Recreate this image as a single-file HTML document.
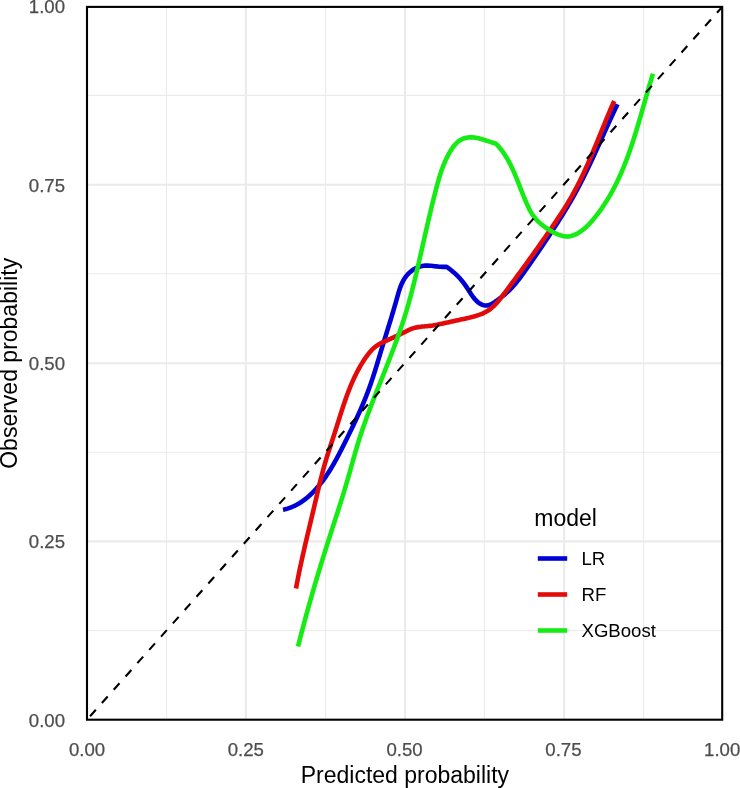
<!DOCTYPE html>
<html><head><meta charset="utf-8"><style>
html,body{margin:0;padding:0;background:#fff;width:740px;height:788px;overflow:hidden}
svg{position:absolute;left:0;top:0;will-change:transform}
text{font-family:"Liberation Sans",sans-serif}
</style></head><body>
<svg width="740" height="788" viewBox="0 0 740 788">
<rect width="740" height="788" fill="#fff"/>
<line x1="166.50" y1="6.90" x2="166.50" y2="719.70" stroke="#EBEBEB" stroke-width="1.1"/>
<line x1="87.00" y1="630.50" x2="722.20" y2="630.50" stroke="#EBEBEB" stroke-width="1.1"/>
<line x1="325.50" y1="6.90" x2="325.50" y2="719.70" stroke="#EBEBEB" stroke-width="1.1"/>
<line x1="87.00" y1="452.30" x2="722.20" y2="452.30" stroke="#EBEBEB" stroke-width="1.1"/>
<line x1="484.50" y1="6.90" x2="484.50" y2="719.70" stroke="#EBEBEB" stroke-width="1.1"/>
<line x1="87.00" y1="273.80" x2="722.20" y2="273.80" stroke="#EBEBEB" stroke-width="1.1"/>
<line x1="643.50" y1="6.90" x2="643.50" y2="719.70" stroke="#EBEBEB" stroke-width="1.1"/>
<line x1="87.00" y1="95.40" x2="722.20" y2="95.40" stroke="#EBEBEB" stroke-width="1.1"/>
<line x1="245.90" y1="6.90" x2="245.90" y2="719.70" stroke="#EBEBEB" stroke-width="2.1"/>
<line x1="87.00" y1="541.40" x2="722.20" y2="541.40" stroke="#EBEBEB" stroke-width="2.1"/>
<line x1="405.10" y1="6.90" x2="405.10" y2="719.70" stroke="#EBEBEB" stroke-width="2.1"/>
<line x1="87.00" y1="363.20" x2="722.20" y2="363.20" stroke="#EBEBEB" stroke-width="2.1"/>
<line x1="564.10" y1="6.90" x2="564.10" y2="719.70" stroke="#EBEBEB" stroke-width="2.1"/>
<line x1="87.00" y1="184.80" x2="722.20" y2="184.80" stroke="#EBEBEB" stroke-width="2.1"/>
<path d="M283.00,509.70 L284.50,509.38 L285.98,509.01 L287.44,508.59 L288.88,508.13 L290.29,507.63 L291.69,507.09 L293.07,506.50 L294.44,505.88 L295.78,505.21 L297.10,504.51 L298.40,503.78 L299.69,503.01 L300.95,502.20 L302.20,501.36 L303.43,500.50 L304.64,499.60 L305.84,498.67 L307.01,497.72 L308.17,496.74 L309.31,495.74 L310.43,494.71 L311.53,493.66 L312.62,492.59 L313.69,491.50 L314.74,490.39 L315.78,489.27 L316.80,488.13 L317.80,486.97 L318.79,485.80 L319.76,484.61 L320.71,483.42 L321.65,482.22 L322.57,481.00 L323.47,479.78 L324.36,478.55 L325.24,477.31 L326.10,476.07 L326.95,474.82 L327.79,473.56 L328.61,472.29 L329.42,471.02 L330.22,469.74 L331.01,468.45 L331.79,467.16 L332.55,465.86 L333.31,464.56 L334.06,463.25 L334.80,461.94 L335.54,460.63 L336.26,459.30 L336.98,457.98 L337.69,456.65 L338.40,455.32 L339.10,453.98 L339.79,452.65 L340.48,451.30 L341.17,449.96 L341.85,448.62 L342.53,447.27 L343.21,445.92 L343.88,444.57 L344.56,443.22 L345.23,441.86 L345.90,440.51 L346.57,439.16 L347.24,437.80 L347.91,436.44 L348.58,435.09 L349.25,433.73 L349.91,432.37 L350.57,431.01 L351.24,429.65 L351.89,428.29 L352.55,426.92 L353.20,425.56 L353.85,424.19 L354.50,422.82 L355.15,421.45 L355.79,420.08 L356.43,418.71 L357.06,417.34 L357.69,415.96 L358.32,414.58 L358.94,413.20 L359.56,411.82 L360.18,410.44 L360.79,409.05 L361.39,407.66 L361.99,406.27 L362.59,404.88 L363.18,403.49 L363.76,402.09 L364.34,400.69 L364.91,399.29 L365.48,397.89 L366.04,396.48 L366.59,395.07 L367.14,393.66 L367.68,392.25 L368.21,390.83 L368.74,389.41 L369.26,387.98 L369.77,386.56 L370.28,385.13 L370.78,383.70 L371.27,382.27 L371.76,380.83 L372.24,379.39 L372.71,377.95 L373.19,376.51 L373.65,375.07 L374.11,373.63 L374.57,372.18 L375.03,370.73 L375.48,369.29 L375.93,367.84 L376.37,366.39 L376.82,364.94 L377.26,363.49 L377.70,362.04 L378.13,360.59 L378.57,359.14 L379.01,357.69 L379.44,356.25 L379.88,354.80 L380.31,353.35 L380.75,351.91 L381.18,350.46 L381.62,349.02 L382.06,347.58 L382.50,346.14 L382.94,344.70 L383.38,343.26 L383.82,341.82 L384.27,340.39 L384.71,338.95 L385.16,337.51 L385.60,336.08 L386.05,334.64 L386.49,333.21 L386.94,331.77 L387.38,330.34 L387.83,328.90 L388.27,327.46 L388.72,326.03 L389.16,324.59 L389.60,323.15 L390.05,321.71 L390.49,320.26 L390.93,318.82 L391.37,317.37 L391.81,315.92 L392.24,314.47 L392.68,313.02 L393.11,311.57 L393.55,310.11 L393.98,308.65 L394.40,307.19 L394.83,305.72 L395.26,304.25 L395.68,302.78 L396.10,301.30 L396.51,299.82 L396.93,298.34 L397.34,296.85 L397.76,295.36 L398.18,293.88 L398.62,292.40 L399.07,290.93 L399.54,289.48 L400.03,288.03 L400.56,286.61 L401.11,285.20 L401.70,283.81 L402.33,282.46 L403.00,281.13 L403.72,279.83 L404.50,278.56 L405.33,277.33 L406.22,276.14 L407.17,275.00 L408.17,273.90 L409.23,272.85 L410.34,271.86 L411.50,270.92 L412.70,270.05 L413.95,269.24 L415.24,268.50 L416.56,267.84 L417.93,267.25 L419.32,266.75 L420.75,266.33 L422.20,265.99 L423.68,265.75 L425.18,265.61 L426.71,265.56 L428.25,265.59 L429.80,265.68 L431.36,265.82 L432.92,265.99 L434.48,266.17 L436.03,266.36 L437.58,266.53 L439.11,266.67 L440.62,266.77 L442.12,266.84 L443.60,266.86 L445.06,266.85 L446.50,266.80 L447.80,267.70 L449.06,268.61 L450.29,269.53 L451.49,270.47 L452.65,271.42 L453.78,272.38 L454.88,273.36 L455.96,274.36 L457.01,275.38 L458.03,276.42 L459.03,277.48 L460.01,278.57 L460.98,279.68 L461.92,280.81 L462.85,281.98 L463.76,283.17 L464.66,284.39 L465.55,285.64 L466.43,286.92 L467.31,288.24 L468.17,289.58 L469.04,290.93 L469.92,292.29 L470.80,293.64 L471.70,294.97 L472.62,296.27 L473.57,297.53 L474.54,298.74 L475.54,299.89 L476.58,300.96 L477.67,301.95 L478.80,302.85 L479.99,303.64 L481.22,304.31 L482.52,304.86 L483.85,305.25 L485.21,305.49 L486.59,305.54 L487.97,305.39 L489.33,305.04 L490.69,304.49 L492.02,303.80 L493.35,302.99 L494.66,302.11 L495.95,301.19 L497.23,300.26 L498.49,299.33 L499.74,298.40 L500.97,297.46 L502.18,296.52 L503.37,295.56 L504.54,294.60 L505.69,293.62 L506.83,292.62 L507.94,291.60 L509.02,290.56 L510.09,289.50 L511.13,288.42 L512.16,287.33 L513.17,286.21 L514.16,285.08 L515.14,283.93 L516.10,282.77 L517.05,281.60 L517.98,280.42 L518.91,279.22 L519.82,278.02 L520.73,276.80 L521.63,275.58 L522.52,274.36 L523.41,273.13 L524.29,271.89 L525.17,270.66 L526.04,269.42 L526.92,268.18 L527.79,266.94 L528.66,265.70 L529.53,264.46 L530.40,263.22 L531.27,261.97 L532.13,260.73 L532.99,259.48 L533.86,258.24 L534.71,256.99 L535.57,255.74 L536.43,254.49 L537.28,253.24 L538.14,251.99 L538.99,250.74 L539.84,249.48 L540.68,248.23 L541.53,246.98 L542.38,245.72 L543.22,244.46 L544.06,243.20 L544.90,241.94 L545.74,240.68 L546.58,239.42 L547.42,238.16 L548.25,236.90 L549.08,235.63 L549.92,234.37 L550.75,233.10 L551.58,231.83 L552.40,230.57 L553.23,229.30 L554.06,228.03 L554.88,226.75 L555.70,225.48 L556.52,224.21 L557.34,222.93 L558.16,221.66 L558.97,220.38 L559.78,219.10 L560.59,217.82 L561.40,216.54 L562.20,215.25 L563.00,213.97 L563.80,212.68 L564.59,211.39 L565.38,210.10 L566.17,208.80 L566.95,207.51 L567.73,206.21 L568.50,204.91 L569.27,203.60 L570.04,202.30 L570.80,200.99 L571.56,199.68 L572.31,198.36 L573.06,197.05 L573.80,195.73 L574.53,194.41 L575.26,193.08 L575.99,191.75 L576.71,190.42 L577.43,189.09 L578.14,187.75 L578.84,186.42 L579.55,185.08 L580.24,183.73 L580.94,182.39 L581.63,181.04 L582.31,179.69 L583.00,178.34 L583.67,176.99 L584.35,175.63 L585.02,174.27 L585.69,172.92 L586.35,171.55 L587.01,170.19 L587.67,168.83 L588.33,167.46 L588.98,166.10 L589.63,164.73 L590.28,163.36 L590.92,161.99 L591.57,160.62 L592.21,159.24 L592.84,157.87 L593.48,156.49 L594.12,155.12 L594.75,153.74 L595.38,152.36 L596.01,150.99 L596.64,149.61 L597.27,148.23 L597.90,146.85 L598.52,145.47 L599.15,144.09 L599.78,142.71 L600.40,141.32 L601.02,139.94 L601.65,138.56 L602.27,137.18 L602.89,135.80 L603.52,134.42 L604.14,133.04 L604.77,131.66 L605.39,130.28 L606.01,128.90 L606.64,127.52 L607.27,126.14 L607.89,124.76 L608.52,123.38 L609.15,122.00 L609.78,120.63 L610.42,119.25 L611.05,117.88 L611.69,116.50 L612.32,115.13 L612.96,113.76 L613.60,112.39 L614.25,111.02 L614.89,109.65 L615.54,108.29 L616.19,106.92 L616.84,105.56 L617.50,104.20" fill="none" stroke="#0000D6" stroke-width="4.6" stroke-linecap="butt" stroke-linejoin="round"/>
<path d="M296.00,588.50 L296.27,587.02 L296.54,585.53 L296.82,584.05 L297.10,582.57 L297.39,581.09 L297.67,579.62 L297.96,578.14 L298.26,576.66 L298.55,575.19 L298.85,573.71 L299.15,572.24 L299.46,570.76 L299.77,569.29 L300.07,567.82 L300.39,566.35 L300.70,564.88 L301.02,563.41 L301.34,561.94 L301.66,560.47 L301.98,559.00 L302.31,557.53 L302.63,556.06 L302.96,554.60 L303.29,553.13 L303.63,551.66 L303.96,550.20 L304.30,548.73 L304.63,547.27 L304.97,545.80 L305.31,544.34 L305.65,542.87 L305.99,541.41 L306.34,539.95 L306.68,538.48 L307.03,537.02 L307.37,535.56 L307.72,534.09 L308.06,532.63 L308.41,531.17 L308.76,529.70 L309.11,528.24 L309.46,526.78 L309.80,525.31 L310.15,523.85 L310.50,522.39 L310.85,520.92 L311.20,519.46 L311.55,517.99 L311.90,516.53 L312.25,515.06 L312.59,513.60 L312.94,512.13 L313.29,510.67 L313.63,509.20 L313.98,507.74 L314.32,506.27 L314.67,504.80 L315.01,503.33 L315.35,501.87 L315.69,500.40 L316.04,498.93 L316.38,497.46 L316.72,495.99 L317.06,494.52 L317.41,493.06 L317.75,491.59 L318.10,490.12 L318.45,488.65 L318.80,487.19 L319.15,485.72 L319.51,484.26 L319.86,482.79 L320.22,481.33 L320.59,479.87 L320.95,478.41 L321.32,476.95 L321.70,475.49 L322.08,474.04 L322.46,472.58 L322.84,471.13 L323.23,469.68 L323.63,468.23 L324.03,466.78 L324.44,465.33 L324.85,463.89 L325.27,462.45 L325.69,461.01 L326.12,459.57 L326.56,458.14 L327.00,456.70 L327.44,455.27 L327.89,453.84 L328.34,452.41 L328.80,450.98 L329.26,449.56 L329.72,448.13 L330.19,446.70 L330.65,445.28 L331.12,443.85 L331.59,442.43 L332.05,441.00 L332.52,439.57 L332.99,438.14 L333.46,436.71 L333.93,435.28 L334.39,433.85 L334.85,432.42 L335.31,430.99 L335.77,429.55 L336.23,428.11 L336.68,426.67 L337.14,425.24 L337.59,423.79 L338.04,422.35 L338.49,420.91 L338.95,419.47 L339.40,418.03 L339.86,416.59 L340.31,415.15 L340.77,413.71 L341.23,412.27 L341.69,410.83 L342.16,409.39 L342.63,407.95 L343.10,406.52 L343.58,405.09 L344.06,403.66 L344.55,402.23 L345.04,400.80 L345.54,399.38 L346.04,397.95 L346.55,396.54 L347.06,395.12 L347.59,393.71 L348.12,392.30 L348.66,390.90 L349.20,389.50 L349.76,388.10 L350.32,386.71 L350.90,385.32 L351.48,383.94 L352.07,382.56 L352.68,381.18 L353.29,379.82 L353.91,378.45 L354.55,377.10 L355.20,375.75 L355.86,374.40 L356.53,373.06 L357.22,371.73 L357.92,370.41 L358.63,369.09 L359.36,367.78 L360.10,366.47 L360.86,365.17 L361.63,363.88 L362.42,362.60 L363.23,361.33 L364.05,360.07 L364.88,358.81 L365.74,357.56 L366.61,356.32 L367.50,355.10 L368.42,353.90 L369.37,352.72 L370.34,351.58 L371.35,350.47 L372.39,349.40 L373.47,348.37 L374.60,347.40 L375.76,346.48 L376.98,345.61 L378.23,344.81 L379.52,344.04 L380.84,343.32 L382.18,342.62 L383.54,341.96 L384.92,341.31 L386.30,340.68 L387.68,340.05 L389.06,339.43 L390.44,338.80 L391.82,338.18 L393.20,337.56 L394.57,336.93 L395.94,336.31 L397.31,335.67 L398.67,335.03 L400.03,334.38 L401.39,333.72 L402.74,333.05 L404.08,332.37 L405.42,331.68 L406.77,331.01 L408.11,330.35 L409.47,329.72 L410.84,329.14 L412.22,328.60 L413.61,328.13 L415.03,327.73 L416.47,327.40 L417.93,327.13 L419.40,326.91 L420.88,326.73 L422.38,326.58 L423.88,326.45 L425.38,326.32 L426.89,326.19 L428.39,326.05 L429.89,325.89 L431.39,325.70 L432.88,325.48 L434.36,325.23 L435.84,324.96 L437.32,324.67 L438.79,324.37 L440.26,324.05 L441.72,323.73 L443.18,323.41 L444.64,323.09 L446.10,322.77 L447.55,322.45 L449.01,322.13 L450.47,321.81 L451.92,321.50 L453.38,321.18 L454.84,320.87 L456.29,320.55 L457.76,320.24 L459.22,319.92 L460.69,319.60 L462.16,319.28 L463.63,318.96 L465.11,318.64 L466.59,318.30 L468.07,317.97 L469.55,317.62 L471.03,317.25 L472.50,316.88 L473.96,316.48 L475.42,316.06 L476.86,315.61 L478.28,315.14 L479.69,314.64 L481.08,314.10 L482.45,313.53 L483.80,312.92 L485.12,312.26 L486.41,311.56 L487.67,310.82 L488.90,310.02 L490.09,309.17 L491.25,308.26 L492.38,307.31 L493.48,306.31 L494.55,305.27 L495.59,304.20 L496.62,303.09 L497.62,301.95 L498.60,300.78 L499.57,299.60 L500.53,298.40 L501.47,297.18 L502.40,295.96 L503.33,294.73 L504.26,293.50 L505.18,292.27 L506.10,291.04 L507.02,289.82 L507.94,288.59 L508.85,287.37 L509.76,286.15 L510.67,284.92 L511.58,283.70 L512.49,282.49 L513.39,281.27 L514.29,280.05 L515.19,278.83 L516.09,277.62 L516.99,276.40 L517.88,275.19 L518.77,273.97 L519.66,272.76 L520.55,271.54 L521.44,270.33 L522.33,269.12 L523.21,267.91 L524.09,266.69 L524.97,265.48 L525.85,264.27 L526.73,263.06 L527.61,261.84 L528.48,260.63 L529.36,259.42 L530.23,258.20 L531.10,256.99 L531.97,255.78 L532.84,254.56 L533.71,253.35 L534.58,252.13 L535.44,250.92 L536.31,249.70 L537.17,248.48 L538.03,247.26 L538.90,246.04 L539.76,244.82 L540.62,243.60 L541.48,242.38 L542.34,241.16 L543.19,239.93 L544.05,238.71 L544.91,237.48 L545.76,236.25 L546.62,235.02 L547.47,233.79 L548.33,232.56 L549.18,231.32 L550.04,230.08 L550.89,228.85 L551.74,227.61 L552.59,226.36 L553.44,225.12 L554.29,223.87 L555.14,222.63 L555.98,221.37 L556.83,220.12 L557.67,218.87 L558.50,217.61 L559.34,216.35 L560.17,215.09 L560.99,213.82 L561.82,212.55 L562.63,211.28 L563.45,210.01 L564.26,208.73 L565.06,207.45 L565.86,206.17 L566.65,204.89 L567.44,203.60 L568.22,202.30 L568.99,201.01 L569.76,199.71 L570.52,198.41 L571.27,197.10 L572.01,195.79 L572.75,194.48 L573.48,193.16 L574.20,191.84 L574.92,190.51 L575.62,189.19 L576.33,187.86 L577.02,186.52 L577.71,185.19 L578.39,183.85 L579.07,182.50 L579.74,181.16 L580.40,179.81 L581.06,178.46 L581.72,177.11 L582.36,175.75 L583.01,174.39 L583.65,173.03 L584.28,171.67 L584.91,170.31 L585.53,168.94 L586.15,167.57 L586.77,166.20 L587.38,164.82 L587.99,163.45 L588.60,162.07 L589.20,160.70 L589.80,159.32 L590.39,157.93 L590.99,156.55 L591.58,155.17 L592.16,153.78 L592.75,152.40 L593.33,151.01 L593.91,149.62 L594.49,148.23 L595.07,146.84 L595.64,145.45 L596.22,144.06 L596.79,142.67 L597.36,141.27 L597.93,139.88 L598.50,138.49 L599.07,137.09 L599.64,135.70 L600.21,134.30 L600.78,132.91 L601.34,131.52 L601.91,130.12 L602.48,128.73 L603.05,127.33 L603.62,125.94 L604.19,124.55 L604.77,123.15 L605.34,121.76 L605.91,120.37 L606.49,118.98 L607.07,117.59 L607.65,116.20 L608.23,114.81 L608.81,113.42 L609.40,112.04 L609.99,110.65 L610.58,109.27 L611.18,107.89 L611.78,106.51 L612.38,105.13 L612.98,103.75 L613.59,102.37 L614.20,101.00" fill="none" stroke="#E30A0A" stroke-width="4.6" stroke-linecap="butt" stroke-linejoin="round"/>
<path d="M298.00,646.50 L298.37,645.04 L298.74,643.58 L299.11,642.12 L299.48,640.66 L299.85,639.20 L300.23,637.74 L300.61,636.28 L300.99,634.83 L301.37,633.37 L301.75,631.91 L302.13,630.45 L302.51,629.00 L302.90,627.54 L303.29,626.09 L303.68,624.63 L304.07,623.18 L304.46,621.72 L304.85,620.27 L305.24,618.81 L305.64,617.36 L306.04,615.91 L306.43,614.46 L306.83,613.00 L307.23,611.55 L307.64,610.10 L308.04,608.65 L308.45,607.20 L308.85,605.75 L309.26,604.30 L309.67,602.85 L310.08,601.40 L310.49,599.95 L310.90,598.50 L311.32,597.05 L311.73,595.60 L312.15,594.16 L312.56,592.71 L312.98,591.26 L313.40,589.82 L313.82,588.37 L314.25,586.92 L314.67,585.48 L315.10,584.03 L315.52,582.59 L315.95,581.14 L316.38,579.70 L316.81,578.26 L317.24,576.81 L317.67,575.37 L318.10,573.93 L318.53,572.48 L318.97,571.04 L319.41,569.60 L319.84,568.16 L320.28,566.72 L320.72,565.28 L321.16,563.84 L321.60,562.40 L322.04,560.96 L322.49,559.52 L322.93,558.08 L323.38,556.64 L323.82,555.20 L324.27,553.76 L324.72,552.32 L325.17,550.89 L325.62,549.45 L326.07,548.01 L326.52,546.58 L326.98,545.14 L327.43,543.70 L327.89,542.27 L328.34,540.83 L328.80,539.40 L329.26,537.96 L329.72,536.53 L330.18,535.09 L330.64,533.66 L331.10,532.22 L331.56,530.79 L332.02,529.36 L332.48,527.92 L332.95,526.49 L333.41,525.06 L333.87,523.63 L334.34,522.19 L334.80,520.76 L335.26,519.33 L335.73,517.89 L336.19,516.46 L336.65,515.03 L337.11,513.59 L337.58,512.16 L338.04,510.73 L338.50,509.29 L338.95,507.86 L339.41,506.42 L339.87,504.99 L340.32,503.55 L340.78,502.11 L341.23,500.68 L341.68,499.24 L342.13,497.80 L342.58,496.36 L343.02,494.93 L343.47,493.49 L343.91,492.05 L344.35,490.60 L344.79,489.16 L345.22,487.72 L345.65,486.28 L346.08,484.83 L346.51,483.39 L346.94,481.94 L347.36,480.49 L347.78,479.05 L348.19,477.60 L348.61,476.15 L349.02,474.70 L349.43,473.25 L349.84,471.80 L350.24,470.34 L350.65,468.89 L351.05,467.44 L351.46,465.99 L351.87,464.53 L352.27,463.08 L352.68,461.63 L353.08,460.18 L353.49,458.73 L353.90,457.28 L354.31,455.82 L354.73,454.38 L355.14,452.93 L355.56,451.48 L355.98,450.03 L356.41,448.58 L356.83,447.14 L357.27,445.70 L357.70,444.25 L358.14,442.81 L358.59,441.37 L359.04,439.94 L359.49,438.50 L359.95,437.07 L360.42,435.63 L360.89,434.20 L361.36,432.77 L361.84,431.35 L362.32,429.92 L362.81,428.49 L363.30,427.07 L363.79,425.65 L364.29,424.23 L364.79,422.80 L365.30,421.39 L365.81,419.97 L366.32,418.55 L366.83,417.14 L367.35,415.72 L367.87,414.31 L368.40,412.89 L368.92,411.48 L369.45,410.07 L369.98,408.66 L370.52,407.25 L371.05,405.84 L371.59,404.43 L372.13,403.03 L372.68,401.62 L373.22,400.22 L373.77,398.81 L374.31,397.41 L374.86,396.00 L375.41,394.60 L375.97,393.19 L376.52,391.79 L377.07,390.39 L377.63,388.99 L378.18,387.58 L378.74,386.18 L379.30,384.78 L379.86,383.38 L380.41,381.98 L380.97,380.58 L381.53,379.18 L382.09,377.78 L382.65,376.38 L383.21,374.98 L383.76,373.57 L384.32,372.17 L384.88,370.77 L385.44,369.37 L385.99,367.97 L386.55,366.57 L387.10,365.17 L387.65,363.76 L388.20,362.36 L388.75,360.96 L389.30,359.55 L389.85,358.15 L390.40,356.75 L390.94,355.34 L391.48,353.93 L392.02,352.53 L392.56,351.12 L393.10,349.71 L393.63,348.30 L394.16,346.90 L394.69,345.49 L395.22,344.07 L395.74,342.66 L396.26,341.25 L396.78,339.84 L397.29,338.42 L397.80,337.01 L398.31,335.59 L398.81,334.17 L399.31,332.75 L399.81,331.33 L400.31,329.91 L400.79,328.49 L401.28,327.07 L401.76,325.64 L402.24,324.21 L402.71,322.79 L403.18,321.36 L403.64,319.93 L404.10,318.49 L404.56,317.06 L405.01,315.62 L405.45,314.19 L405.89,312.75 L406.32,311.31 L406.75,309.87 L407.18,308.42 L407.60,306.98 L408.01,305.53 L408.43,304.08 L408.83,302.64 L409.23,301.18 L409.63,299.73 L410.03,298.28 L410.42,296.83 L410.81,295.37 L411.19,293.92 L411.57,292.46 L411.95,291.00 L412.32,289.54 L412.69,288.08 L413.06,286.62 L413.43,285.16 L413.79,283.70 L414.15,282.23 L414.51,280.77 L414.86,279.30 L415.21,277.84 L415.57,276.37 L415.92,274.91 L416.26,273.44 L416.61,271.97 L416.95,270.51 L417.30,269.04 L417.64,267.57 L417.98,266.10 L418.32,264.64 L418.66,263.17 L419.00,261.70 L419.33,260.23 L419.67,258.76 L420.01,257.29 L420.34,255.82 L420.68,254.36 L421.01,252.89 L421.34,251.42 L421.68,249.95 L422.01,248.48 L422.34,247.01 L422.68,245.54 L423.01,244.07 L423.34,242.60 L423.68,241.13 L424.01,239.66 L424.34,238.19 L424.67,236.73 L425.01,235.26 L425.34,233.79 L425.68,232.32 L426.01,230.85 L426.35,229.38 L426.68,227.91 L427.02,226.45 L427.36,224.98 L427.70,223.51 L428.04,222.04 L428.38,220.58 L428.72,219.11 L429.06,217.64 L429.41,216.18 L429.75,214.71 L430.10,213.24 L430.45,211.78 L430.80,210.31 L431.15,208.85 L431.50,207.38 L431.86,205.92 L432.21,204.45 L432.57,202.99 L432.93,201.53 L433.29,200.06 L433.66,198.60 L434.02,197.14 L434.39,195.68 L434.76,194.22 L435.13,192.76 L435.51,191.30 L435.88,189.84 L436.26,188.38 L436.65,186.92 L437.03,185.46 L437.43,184.01 L437.83,182.55 L438.23,181.10 L438.65,179.65 L439.07,178.21 L439.50,176.77 L439.95,175.33 L440.40,173.89 L440.87,172.46 L441.35,171.04 L441.84,169.62 L442.36,168.21 L442.88,166.80 L443.43,165.40 L443.99,164.00 L444.57,162.61 L445.17,161.23 L445.79,159.86 L446.43,158.50 L447.10,157.14 L447.78,155.79 L448.50,154.45 L449.23,153.12 L450.00,151.81 L450.79,150.50 L451.61,149.21 L452.46,147.94 L453.35,146.71 L454.28,145.52 L455.26,144.38 L456.28,143.30 L457.36,142.28 L458.49,141.34 L459.69,140.49 L460.94,139.72 L462.26,139.06 L463.65,138.50 L465.09,138.05 L466.58,137.71 L468.09,137.47 L469.61,137.33 L471.13,137.28 L472.64,137.34 L474.14,137.47 L475.63,137.68 L477.12,137.96 L478.60,138.29 L480.07,138.67 L481.54,139.08 L482.99,139.53 L484.44,139.99 L485.88,140.46 L487.31,140.93 L488.74,141.40 L490.17,141.87 L491.59,142.32 L493.02,142.76 L494.46,143.19 L495.90,143.60 L496.98,144.73 L498.03,145.88 L499.04,147.04 L500.03,148.23 L500.99,149.43 L501.92,150.65 L502.83,151.89 L503.71,153.15 L504.56,154.42 L505.39,155.70 L506.20,157.00 L506.99,158.31 L507.76,159.63 L508.51,160.97 L509.23,162.32 L509.95,163.68 L510.64,165.05 L511.32,166.43 L511.98,167.81 L512.64,169.21 L513.27,170.61 L513.90,172.03 L514.52,173.44 L515.12,174.87 L515.72,176.30 L516.31,177.73 L516.89,179.17 L517.47,180.61 L518.04,182.05 L518.61,183.49 L519.18,184.94 L519.74,186.39 L520.30,187.84 L520.87,189.28 L521.43,190.73 L522.00,192.17 L522.57,193.62 L523.14,195.05 L523.72,196.49 L524.30,197.92 L524.90,199.35 L525.50,200.77 L526.10,202.18 L526.72,203.59 L527.35,204.99 L527.99,206.38 L528.65,207.76 L529.32,209.14 L530.00,210.50 L530.73,211.85 L531.51,213.17 L532.33,214.44 L533.19,215.68 L534.09,216.88 L535.03,218.05 L536.00,219.18 L537.02,220.29 L538.06,221.35 L539.15,222.39 L540.26,223.40 L541.40,224.37 L542.58,225.32 L543.78,226.24 L545.02,227.14 L546.27,228.00 L547.56,228.85 L548.86,229.67 L550.19,230.47 L551.54,231.24 L552.91,231.99 L554.30,232.72 L555.71,233.41 L557.12,234.05 L558.55,234.64 L559.99,235.16 L561.43,235.60 L562.88,235.96 L564.32,236.23 L565.77,236.39 L567.21,236.44 L568.65,236.36 L570.08,236.16 L571.50,235.85 L572.90,235.44 L574.29,234.92 L575.66,234.32 L577.00,233.65 L578.32,232.91 L579.61,232.11 L580.88,231.26 L582.11,230.37 L583.31,229.44 L584.48,228.47 L585.63,227.47 L586.75,226.44 L587.85,225.38 L588.92,224.29 L589.97,223.17 L591.00,222.04 L592.02,220.89 L593.02,219.72 L594.00,218.54 L594.96,217.35 L595.92,216.16 L596.86,214.95 L597.79,213.74 L598.70,212.53 L599.60,211.30 L600.49,210.07 L601.37,208.83 L602.24,207.59 L603.09,206.33 L603.93,205.08 L604.76,203.81 L605.58,202.54 L606.39,201.27 L607.19,199.98 L607.97,198.70 L608.75,197.40 L609.51,196.10 L610.27,194.80 L611.01,193.49 L611.74,192.17 L612.47,190.85 L613.18,189.52 L613.88,188.19 L614.58,186.85 L615.26,185.51 L615.94,184.16 L616.61,182.81 L617.27,181.46 L617.92,180.10 L618.56,178.73 L619.19,177.36 L619.81,175.99 L620.43,174.61 L621.04,173.23 L621.64,171.84 L622.23,170.45 L622.82,169.06 L623.40,167.66 L623.97,166.26 L624.53,164.86 L625.09,163.45 L625.64,162.04 L626.18,160.63 L626.72,159.21 L627.25,157.79 L627.78,156.37 L628.30,154.94 L628.82,153.52 L629.32,152.09 L629.83,150.65 L630.33,149.22 L630.82,147.78 L631.31,146.34 L631.79,144.90 L632.27,143.45 L632.74,142.01 L633.21,140.56 L633.68,139.11 L634.14,137.66 L634.60,136.21 L635.06,134.75 L635.51,133.30 L635.96,131.84 L636.40,130.38 L636.84,128.92 L637.28,127.47 L637.72,126.00 L638.15,124.54 L638.58,123.08 L639.01,121.62 L639.44,120.16 L639.87,118.69 L640.29,117.23 L640.71,115.77 L641.13,114.30 L641.55,112.84 L641.97,111.38 L642.39,109.91 L642.81,108.45 L643.22,106.99 L643.64,105.53 L644.06,104.07 L644.47,102.60 L644.89,101.15 L645.30,99.69 L645.72,98.23 L646.13,96.77 L646.55,95.32 L646.97,93.86 L647.39,92.41 L647.81,90.96 L648.23,89.51 L648.65,88.06 L649.08,86.62 L649.50,85.17 L649.93,83.73 L650.36,82.29 L650.80,80.85 L651.23,79.42 L651.67,77.98 L652.11,76.55 L652.55,75.13 L653.00,73.70" fill="none" stroke="#14EC14" stroke-width="4.6" stroke-linecap="butt" stroke-linejoin="round"/>
<line x1="87.0" y1="719.7" x2="722.2" y2="6.9" stroke="#000" stroke-width="2.1" stroke-dasharray="8.7 9.08" stroke-dashoffset="13.18"/>
<rect x="87.0" y="6.9" width="635.20" height="712.80" fill="none" stroke="#000" stroke-width="2.1"/>
<text x="65" y="727.00" text-anchor="end" font-size="18.6" fill="#4D4D4D" stroke="#4D4D4D" stroke-width="0.25">0.00</text>
<text x="87.00" y="755.6" text-anchor="middle" font-size="18.6" fill="#4D4D4D" stroke="#4D4D4D" stroke-width="0.25">0.00</text>
<text x="65" y="548.20" text-anchor="end" font-size="18.6" fill="#4D4D4D" stroke="#4D4D4D" stroke-width="0.25">0.25</text>
<text x="245.80" y="755.6" text-anchor="middle" font-size="18.6" fill="#4D4D4D" stroke="#4D4D4D" stroke-width="0.25">0.25</text>
<text x="65" y="370.00" text-anchor="end" font-size="18.6" fill="#4D4D4D" stroke="#4D4D4D" stroke-width="0.25">0.50</text>
<text x="404.60" y="755.6" text-anchor="middle" font-size="18.6" fill="#4D4D4D" stroke="#4D4D4D" stroke-width="0.25">0.50</text>
<text x="65" y="191.80" text-anchor="end" font-size="18.6" fill="#4D4D4D" stroke="#4D4D4D" stroke-width="0.25">0.75</text>
<text x="563.40" y="755.6" text-anchor="middle" font-size="18.6" fill="#4D4D4D" stroke="#4D4D4D" stroke-width="0.25">0.75</text>
<text x="65" y="12.80" text-anchor="end" font-size="18.6" fill="#4D4D4D" stroke="#4D4D4D" stroke-width="0.25">1.00</text>
<text x="722.20" y="755.6" text-anchor="middle" font-size="18.6" fill="#4D4D4D" stroke="#4D4D4D" stroke-width="0.25">1.00</text>
<text x="404.90" y="782.8" text-anchor="middle" font-size="23" fill="#000">Predicted probability</text>
<text transform="translate(17.3,363.30) rotate(-90)" text-anchor="middle" font-size="23" fill="#000">Observed probability</text>
<text x="534.3" y="526" font-size="23" fill="#000">model</text>
<line x1="537.8" y1="558.5" x2="567.2" y2="558.5" stroke="#0000D6" stroke-width="4.6"/>
<text x="581.5" y="565.40" font-size="18.6" fill="#000">LR</text>
<line x1="537.8" y1="594.5" x2="567.2" y2="594.5" stroke="#E30A0A" stroke-width="4.6"/>
<text x="581.5" y="601.40" font-size="18.6" fill="#000">RF</text>
<line x1="537.8" y1="630.5" x2="567.2" y2="630.5" stroke="#14EC14" stroke-width="4.6"/>
<text x="581.5" y="637.40" font-size="18.6" fill="#000">XGBoost</text>
</svg>
</body></html>
